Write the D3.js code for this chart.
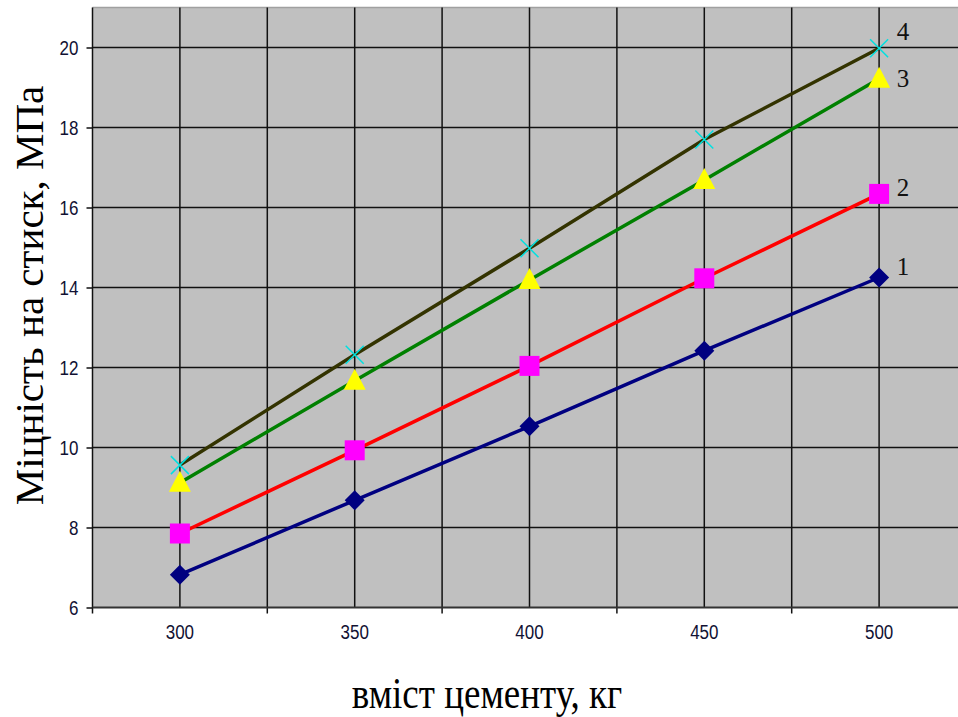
<!DOCTYPE html>
<html><head><meta charset="utf-8">
<script src="https://cdn.jsdelivr.net/npm/d3@7"></script>
<style>body{margin:0;background:#fff;overflow:hidden}</style>
</head><body><svg id="c" width="958" height="717"></svg>
<script>
// ---- data ----
const categories = ["300", "350", "400", "450", "500"];
const series1 = [6.82, 8.68, 10.53, 12.42, 14.25];
const series2 = [7.85, 9.93, 12.04, 14.23, 16.34];
const series3 = [9.12, 11.67, 14.19, 16.69, 19.22];
const series4 = [9.56, 12.32, 14.98, 17.70, 19.98];
const seriesNames = ["1", "2", "3", "4"];
const yTicks = [6, 8, 10, 12, 14, 16, 18, 20];
const xTitle = "вміст цементу, кг";
const yTitle = "Міцність на стиск, МПа";

// ---- styles ----
const lineColors = ["#000080", "#ff0000", "#008000", "#333300"];
const markerFill = ["#000080", "#ff00ff", "#ffff00", "none"];
const markerKind = ["diamond", "square", "triangle", "x"];
const labelDy = [-11, -6, 0, -17];

const svg = d3.select("#c");
const L = 92.5, T = 7.5, B = 607.5, R = 966.5;
const x = d3.scaleBand().domain(categories).range([L, R]).padding(0);
const y = d3.scaleLinear().domain([6, 21]).range([B, T]);
const cx = c => x(c) + x.bandwidth() / 2;

// plot area
svg.append("rect").attr("x", L).attr("y", T).attr("width", 958 - L).attr("height", B - T).attr("fill", "#c0c0c0");
svg.append("line").attr("x1", L).attr("x2", 958).attr("y1", T).attr("y2", T).attr("stroke", "#a0a0a0").attr("stroke-width", 1.5);

// horizontal gridlines
svg.append("g").selectAll("line").data(yTicks.filter(v => v > 6)).join("line")
  .attr("x1", L).attr("x2", 958).attr("y1", d => y(d)).attr("y2", d => y(d))
  .attr("stroke", "#111").attr("stroke-width", 1.5);

// vertical gridlines at category centers and band edges
const edges = categories.map(c => x(c)).concat([x(categories[categories.length - 1]) + x.bandwidth()]);
svg.append("g").selectAll("line").data(categories).join("line")
  .attr("x1", d => cx(d)).attr("x2", d => cx(d)).attr("y1", T).attr("y2", B)
  .attr("stroke", "#111").attr("stroke-width", 1.5);
svg.append("g").selectAll("line").data(edges.slice(1)).join("line")
  .attr("x1", d => d).attr("x2", d => d).attr("y1", T).attr("y2", B + 6)
  .attr("stroke", "#111").attr("stroke-width", 1.5);

// axes
const yAxis = svg.append("g").attr("transform", `translate(${L},0)`)
  .call(d3.axisLeft(y).tickValues(yTicks).tickSize(6).tickPadding(8).tickSizeOuter(0));
yAxis.select(".domain").attr("stroke", "#111").attr("stroke-width", 1.5).attr("d", `M0,${T}V${B + 6}`);
yAxis.selectAll(".tick line").attr("stroke", "#111").attr("stroke-width", 1.5);
yAxis.selectAll(".tick text").attr("font-family", "Liberation Sans, Arial, sans-serif")
  .attr("font-size", 17).attr("fill", "#111133").attr("dy", null)
  .attr("dominant-baseline", "central").attr("transform", "scale(1,1.15)");

const xAxis = svg.append("g").attr("transform", `translate(0,${B})`)
  .call(d3.axisBottom(x).tickSize(0).tickPadding(0).tickSizeOuter(0));
xAxis.select(".domain").attr("stroke", "#333").attr("stroke-width", 2).attr("d", `M${L},0H958`);
xAxis.selectAll(".tick text").attr("font-family", "Liberation Sans, Arial, sans-serif")
  .attr("font-size", 17).attr("fill", "#111133").attr("dy", null).attr("y", 25 / 1.15)
  .attr("dominant-baseline", "central").attr("transform", "scale(1,1.15)");

// series
const allSeries = [series1, series2, series3, series4];
const line = d3.line().x((d, i) => cx(categories[i])).y(d => y(d));
allSeries.forEach((s, k) => {
  svg.append("path").datum(s).attr("d", line).attr("fill", "none")
    .attr("stroke", lineColors[k]).attr("stroke-width", 3.5).attr("stroke-linejoin", "round");
});
function markerPath(kind) {
  if (kind === "diamond") return "M0,-10L10,0L0,10L-10,0Z";
  if (kind === "square") return "M-10,-10H10V10H-10Z";
  if (kind === "triangle") return "M0,-12L11,9H-11Z";
  return "M-9,-9L9,9M-9,9L9,-9";
}
allSeries.forEach((s, k) => {
  svg.append("g").selectAll("path").data(s).join("path")
    .attr("transform", (d, i) => `translate(${cx(categories[i])},${y(d)})`)
    .attr("d", markerPath(markerKind[k]))
    .attr("fill", markerFill[k])
    .attr("stroke", markerKind[k] === "x" ? "#00e0e0" : "none")
    .attr("stroke-width", 1.5);
});

// series labels
allSeries.forEach((s, k) => {
  svg.append("text").attr("x", cx(categories[categories.length - 1]) + 24)
    .attr("y", y(s[s.length - 1]) + labelDy[k])
    .attr("text-anchor", "middle").attr("dominant-baseline", "central")
    .attr("font-family", "Liberation Serif, Times New Roman, serif").attr("font-size", 25)
    .attr("fill", "#111").text(seriesNames[k]);
});

// titles
svg.append("g").attr("transform", "translate(487,708) scale(1,1.2)")
  .append("text").attr("text-anchor", "middle")
  .attr("font-family", "Liberation Serif, Times New Roman, serif").attr("font-size", 37)
  .attr("fill", "#000").text(xTitle);
svg.append("g").attr("transform", "translate(43,295.5) rotate(-90)")
  .append("text").attr("text-anchor", "middle")
  .attr("font-family", "Liberation Serif, Times New Roman, serif").attr("font-size", 41)
  .attr("fill", "#000").text(yTitle);
</script></body></html>
